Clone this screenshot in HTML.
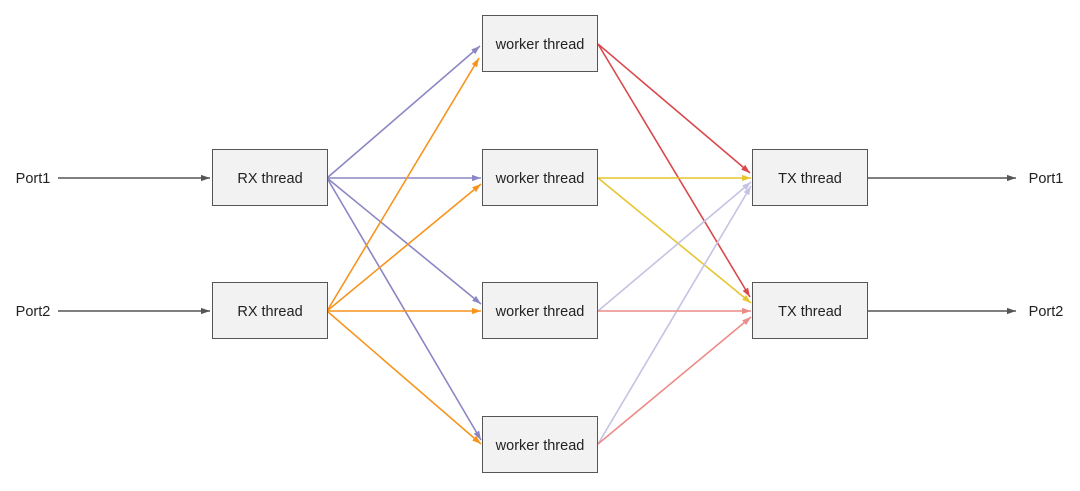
<!DOCTYPE html>
<html><head><style>
body{margin:0;background:#fff;}
svg{display:block;font-family:"Liberation Sans",sans-serif;}
</style></head><body>
<svg width="1080" height="491" viewBox="0 0 1080 491">
<defs>
<marker id="m" viewBox="0 0 10 10" refX="10" refY="5" markerWidth="9" markerHeight="9" orient="auto" markerUnits="userSpaceOnUse"><path d="M0,1.5 L10,5 L0,8.5 z" fill="context-stroke"/></marker>
</defs>
<g stroke-width="1.6" fill="none" marker-end="url(#m)">
<line x1="58" y1="178" x2="210" y2="178" stroke="#555"/>
<line x1="58" y1="311" x2="210" y2="311" stroke="#555"/>
<line x1="868" y1="178" x2="1016" y2="178" stroke="#555"/>
<line x1="868" y1="311" x2="1016" y2="311" stroke="#555"/>
<g stroke="#8b87c4">
<line x1="327" y1="178" x2="480" y2="46"/>
<line x1="327" y1="178" x2="481" y2="178"/>
<line x1="327" y1="178" x2="481" y2="304"/>
<line x1="327" y1="178" x2="481" y2="440"/>
</g>
<g stroke="#f7941d">
<line x1="327" y1="311" x2="479" y2="58"/>
<line x1="327" y1="311" x2="481" y2="184"/>
<line x1="327" y1="311" x2="481" y2="311"/>
<line x1="327" y1="311" x2="481" y2="444"/>
</g>
<g stroke="#d9484c">
<line x1="598" y1="44" x2="750" y2="173"/>
<line x1="598" y1="44" x2="750" y2="297"/>
</g>
<g stroke="#e6c530">
<line x1="598" y1="178" x2="751" y2="178"/>
<line x1="598" y1="178" x2="751" y2="303"/>
</g>
<g stroke="#c5c3e3">
<line x1="598" y1="311" x2="751" y2="182"/>
<line x1="598" y1="444" x2="751" y2="186"/>
</g>
<g stroke="#ec8c88">
<line x1="598" y1="311" x2="751" y2="311"/>
<line x1="598" y1="444" x2="751" y2="317"/>
</g>
</g>
<g fill="#f2f2f2" stroke="#555" stroke-width="1">
<rect x="212.5" y="149.5" width="115" height="56"/>
<rect x="212.5" y="282.5" width="115" height="56"/>
<rect x="482.5" y="15.5" width="115" height="56"/>
<rect x="482.5" y="149.5" width="115" height="56"/>
<rect x="482.5" y="282.5" width="115" height="56"/>
<rect x="482.5" y="416.5" width="115" height="56"/>
<rect x="752.5" y="149.5" width="115" height="56"/>
<rect x="752.5" y="282.5" width="115" height="56"/>
</g>
<g font-size="14.5" fill="#222" text-anchor="middle">
<text x="270" y="183">RX thread</text>
<text x="270" y="316">RX thread</text>
<text x="540" y="49">worker thread</text>
<text x="540" y="183">worker thread</text>
<text x="540" y="316">worker thread</text>
<text x="540" y="450">worker thread</text>
<text x="810" y="183">TX thread</text>
<text x="810" y="316">TX thread</text>
<text x="33" y="183">Port1</text>
<text x="33" y="316">Port2</text>
<text x="1046" y="183">Port1</text>
<text x="1046" y="316">Port2</text>
</g>
</svg>
</body></html>
